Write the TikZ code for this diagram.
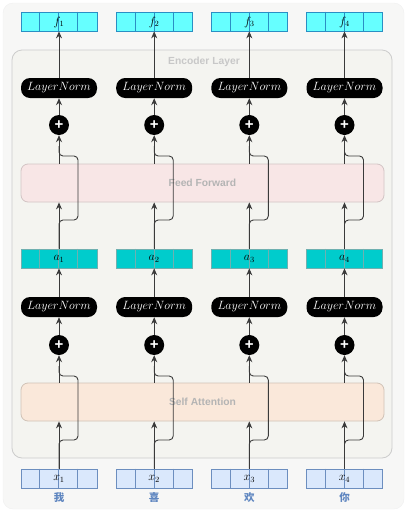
\documentclass[tikz,border=0pt]{standalone}
\usepackage{fontspec}
\setsansfont{Liberation Sans}
\newfontfamily\cjk{Noto Sans CJK SC}
\usetikzlibrary{arrows.meta}
\definecolor{outerbg}{HTML}{F7F7F6}
\definecolor{encbg}{HTML}{F4F4F0}
\definecolor{encline}{HTML}{CCCCCC}
\definecolor{ffbg}{HTML}{F8E6E6}
\definecolor{ffline}{HTML}{D2C4C4}
\definecolor{sabg}{HTML}{FAE8DA}
\definecolor{saline}{HTML}{D0C2B6}
\definecolor{ffill}{HTML}{66FFFF}
\definecolor{fline}{HTML}{2A8FC4}
\definecolor{afill}{HTML}{00CCCC}
\definecolor{aline}{HTML}{6FB0B0}
\definecolor{xfill}{HTML}{DAE8FC}
\definecolor{xline}{HTML}{6C8EBF}
\definecolor{labgray}{HTML}{B4B4B4}
\definecolor{cjkblue}{HTML}{5F86C0}
\definecolor{conn}{HTML}{3A3A3A}
\begin{document}
\begin{tikzpicture}[x=1pt,y=-1pt,
  vecbox/.style={minimum width=76pt,minimum height=19pt,inner sep=0pt,line width=0.7pt},
  fvec/.style={vecbox,fill=ffill,draw=fline},
  avec/.style={vecbox,fill=afill,draw=aline},
  xvec/.style={vecbox,fill=xfill,draw=xline},
  veclabel/.style={inner sep=0pt,font=\fontsize{11.5}{11.5}\selectfont},
  lnbox/.style={fill=black,text=white,rounded corners=9pt,minimum width=76pt,minimum height=20pt,inner sep=0pt,font=\fontsize{12.8}{12.8}\selectfont},
  plusnode/.style={circle,fill=black,minimum size=20pt,inner sep=0pt,text=white,font=\sffamily\bfseries\fontsize{15}{15}\selectfont},
  bigbox/.style={rounded corners=7pt,line width=0.8pt,minimum width=363pt,minimum height=38pt,inner sep=0pt,text=labgray,font=\sffamily\bfseries\fontsize{10.3}{10.3}\selectfont},
  arr/.style={-{Stealth[length=7pt,width=6pt]},draw=conn,line width=0.9pt},
  resid/.style={draw=conn,line width=0.9pt,rounded corners=4pt},
  cjklab/.style={text=cjkblue,font=\cjk\bfseries\fontsize{10.5}{10.5}\selectfont,inner sep=0pt}
]
\useasboundingbox (0,0) rectangle (407,512);
\fill[outerbg,draw=black!6,rounded corners=10pt] (3,3) rectangle (404,509);
\node[draw=encline,fill=encbg,rounded corners=10pt,line width=0.8pt,minimum width=380pt,minimum height=408pt,inner sep=0pt] (enc) at (202,254) {};
\node[text=encline!80!black!60,font=\sffamily\bfseries\fontsize{10.3}{10.3}\selectfont,inner sep=0pt] (enclab) at (204,62) {Encoder Layer};
\node[bigbox,fill=ffbg,draw=ffline] (ff) at (202.5,183) {Feed Forward};
\node[bigbox,fill=sabg,draw=saline] (sa) at (202.5,402) {Self Attention};
\foreach \i/\cx/\ch in {1/59/我,2/154.2/喜,3/249.3/欢,4/344.5/你}{
  % vectors
  \node[fvec] (f\i) at (\cx,21.5) {};
  \node[avec] (a\i) at (\cx,258.5) {};
  \node[xvec] (x\i) at (\cx,478.5) {};
  \foreach \d in {19,38,57}{
    \draw[fline,line width=0.7pt] ([xshift=\d pt]f\i.north west) -- ([xshift=\d pt]f\i.south west);
    \draw[aline,line width=0.7pt] ([xshift=\d pt]a\i.north west) -- ([xshift=\d pt]a\i.south west);
    \draw[xline,line width=0.7pt] ([xshift=\d pt]x\i.north west) -- ([xshift=\d pt]x\i.south west);
  }
  \node[veclabel] (f\i t) at (\cx,22) {$f_{\i}$};
  \node[veclabel] (a\i t) at (\cx,259) {$a_{\i}$};
  \node[veclabel] (x\i t) at (\cx,479) {$x_{\i}$};
  \node[cjklab] (c\i) at (\cx,497.5) {\ch};
  % layer norms and adds
  \node[lnbox] (ln1\i) at (\cx,88) {$LayerNorm$};
  \node[plusnode] (p1\i) at (\cx,125) {+};
  \node[lnbox] (ln2\i) at (\cx,307) {$LayerNorm$};
  \node[plusnode] (p2\i) at (\cx,345) {+};
  % top block connectors
  \draw[arr] (ln1\i.north) -- (f\i.south);
  \draw[arr] (p1\i.north) -- (ln1\i.south);
  \draw[resid] (a\i.north) |- ([xshift=19pt]a\i.north |- 0,220) -- ([xshift=19pt]a\i.north |- 0,156) -| (\cx,146);
  \draw[arr] (p1\i |- ff.north) -- (p1\i.south);
  \draw[arr] (a\i.north) -- (a\i |- ff.south);
  % bottom block connectors
  \draw[arr] (ln2\i.north) -- (a\i.south);
  \draw[arr] (p2\i.north) -- (ln2\i.south);
  \draw[resid] (x\i.north) |- ([xshift=19pt]x\i.north |- 0,440) -- ([xshift=19pt]x\i.north |- 0,376) -| (\cx,366);
  \draw[arr] (p2\i |- sa.north) -- (p2\i.south);
  \draw[arr] (x\i.north) -- (x\i |- sa.south);
}
\end{tikzpicture}
\end{document}
